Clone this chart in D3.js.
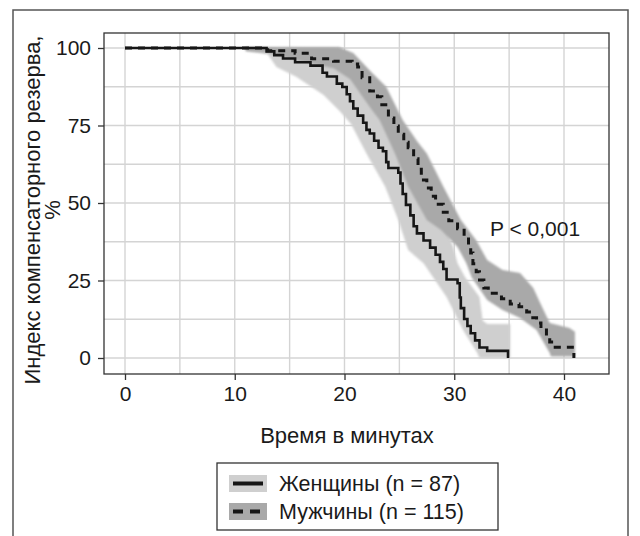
<!DOCTYPE html>
<html>
<head>
<meta charset="utf-8">
<script src="https://cdn.jsdelivr.net/npm/d3@7"></script>
<style>
  body { margin: 0; background: #fff; }
  text { font-family: "Liberation Sans", Arial, sans-serif; fill: #1a1a1a; }
</style>
</head>
<body>
<div id="chart"></div>
<script>
// Kaplan-Meier steps: [minutes, percent]
const womenSteps = [[0,100],[12.9,98.9],[13.6,97.7],[14.4,96.6],[15.5,95.4],[16.9,94.3],[18.0,92.0],[18.4,90.8],
  [19.3,88.5],[19.8,87.4],[20.2,85.1],[20.5,82.8],[20.8,80.5],[21.2,78.2],[21.7,75.9],[22.0,73.6],[22.3,72.4],
  [22.7,70.1],[23.1,67.8],[23.5,66.7],[23.8,63.2],[24.0,61.3],[24.9,59.8],[25.1,56.3],[25.3,52.9],[25.6,49.4],
  [26.0,46.0],[26.3,42.5],[26.6,40.2],[27.2,37.9],[27.8,35.6],[28.3,33.3],[28.7,31.0],[29.0,28.7],[29.3,25.3],
  [30.3,24.1],[30.5,19.5],[30.6,16.1],[30.9,12.6],[31.2,10.3],[31.5,8.0],[31.9,5.7],[32.3,3.4],[33.0,2.3],[34.9,0]];
const menSteps = [[0,100],[13.0,99.1],[15.5,98.3],[17.0,96.5],[19.0,95.7],[20.7,94.8],[21.2,93.9],[21.6,90.4],
  [22.3,86.1],[23.0,84.3],[23.4,81.7],[24.0,77.4],[24.5,74.8],[24.9,72.2],[25.4,69.6],[25.8,67.8],[26.3,64.3],
  [26.7,60.9],[27.0,57.4],[27.5,54.8],[27.9,52.2],[28.3,49.6],[29.0,47.0],[29.5,44.3],[30.3,41.7],[30.9,39.1],
  [31.3,36.5],[31.5,33.9],[31.7,30.4],[32.0,27.8],[32.3,25.2],[32.7,22.6],[33.1,20.9],[34.3,19.1],[35.1,17.4],
  [35.9,16.5],[36.6,14.8],[37.0,13.0],[37.5,11.3],[37.9,9.6],[38.4,7.0],[38.7,5.2],[39.2,3.5],[40.9,0]];

// confidence band edges
const womenUpper = [[11,100],[19,99.5],[21,96],[23,88],[24.5,76],[25.8,62],[27,52],[28.5,44.5],[29.3,41.3],
  [29.9,35.8],[30.3,30.6],[31,26],[32.3,19.7],[32.6,12],[33,11],[35.1,11],[35.1,0]];
const womenLower = [[11,99],[13,98],[13.8,93.9],[15.6,90.7],[18.1,84.8],[19.6,79.5],[20.6,75.5],[22,66],
  [23.7,55.3],[24.9,44.5],[25.8,34.8],[27.2,30.6],[29.3,19.7],[30.8,9],[32.1,1.6],[32.3,0]];
const menUpper = [[11,100.3],[19.5,100.3],[20.8,98.4],[22.5,92],[23.8,87.5],[25.3,76.8],[26.6,70],[27.5,66],
  [29,55.3],[30.6,44.5],[32,38],[33,31.6],[34.4,28.4],[36,27.4],[37.2,22.6],[37.8,18],[38.7,11.3],[40.5,9.7],
  [41,8.5],[41,0.5]];
const menLower = [[11,99],[13,98.5],[15,96.5],[17,95],[19,93.5],[20.5,90],[21.5,85],[22.5,80],[23.2,76.8],
  [24.6,66],[25.8,55.3],[27.5,44.5],[28.8,41.3],[30.3,35.8],[31.1,30.6],[31.6,26],[33,18.7],[34.4,15.5],
  [36,12.9],[37.5,9],[38.7,1.6],[38.8,0.5]];

const xTicks = [0, 10, 20, 30, 40];
const xGrid = [0, 5, 10, 15, 20, 25, 30, 35, 40];
const yTicks = [0, 25, 50, 75, 100];
const yGrid = [0, 12.5, 25, 37.5, 50, 62.5, 75, 87.5, 100];

const seriesNames = ["Женщины (n = 87)", "Мужчины (n = 115)"];
const xTitle = "Время в минутах";
const yTitle = ["Индекс компенсаторного резерва,", "%"];
const pLabel = "P < 0,001";

const width = 640, height = 536;
const panel = { left: 104, right: 609, top: 33, bottom: 374 };

const svg = d3.select("#chart").append("svg")
    .attr("width", width)
    .attr("height", height);

// soft edge for the bands, like the scanned figure
svg.append("defs").append("filter")
    .attr("id", "soft")
    .append("feGaussianBlur").attr("stdDeviation", 0.8);

// outer frame
svg.append("rect")
    .attr("x", 13).attr("y", 10)
    .attr("width", 615).attr("height", 540)
    .attr("fill", "none").attr("stroke", "#555").attr("stroke-width", 1.5);

const x = d3.scaleLinear().domain([0, 40]).range([125, 564]);
const y = d3.scaleLinear().domain([0, 100]).range([358, 48]);

// grid
const grid = svg.append("g").attr("stroke", "#d4d4d4").attr("stroke-width", 1.4);
grid.selectAll(".gx").data(xGrid).enter().append("line")
    .attr("x1", d => x(d)).attr("x2", d => x(d))
    .attr("y1", panel.top).attr("y2", panel.bottom);
grid.selectAll(".gy").data(yGrid).enter().append("line")
    .attr("y1", d => y(d)).attr("y2", d => y(d))
    .attr("x1", panel.left).attr("x2", panel.right);

// bands
const poly = d3.line().x(d => x(d[0])).y(d => y(d[1]));
svg.append("path")
    .attr("d", poly(womenUpper.concat(womenLower.slice().reverse())) + "Z")
    .attr("fill", "#cfcfcf").attr("filter", "url(#soft)");
svg.append("path")
    .attr("d", poly(menUpper.concat(menLower.slice().reverse())) + "Z")
    .attr("fill", "#a9a9a9").attr("filter", "url(#soft)");

// survival curves
const step = d3.line().x(d => x(d[0])).y(d => y(d[1])).curve(d3.curveStepAfter);
svg.append("path")
    .attr("d", step(womenSteps))
    .attr("fill", "none").attr("stroke", "#161616").attr("stroke-width", 2.6);
svg.append("path")
    .attr("d", step(menSteps))
    .attr("fill", "none").attr("stroke", "#161616").attr("stroke-width", 3)
    .attr("stroke-dasharray", "7,6");

// panel border
svg.append("rect")
    .attr("x", panel.left).attr("y", panel.top)
    .attr("width", panel.right - panel.left).attr("height", panel.bottom - panel.top)
    .attr("fill", "none").attr("stroke", "#333").attr("stroke-width", 1.3);

// axes
const xAxis = svg.append("g")
    .attr("transform", `translate(0,${panel.bottom})`)
    .call(d3.axisBottom(x).tickValues(xTicks).tickSize(6).tickPadding(6));
const yAxis = svg.append("g")
    .attr("transform", `translate(${panel.left},0)`)
    .call(d3.axisLeft(y).tickValues(yTicks).tickSize(6).tickPadding(7));
[xAxis, yAxis].forEach(g => {
  g.select(".domain").remove();
  g.selectAll(".tick line").attr("stroke", "#333").attr("stroke-width", 1.3);
  g.selectAll(".tick text").style("font-size", "21px").attr("fill", "#1a1a1a")
      .style("font-family", '"Liberation Sans", Arial, sans-serif');
});

// titles
svg.append("text")
    .attr("x", 347).attr("y", 443)
    .attr("text-anchor", "middle")
    .style("font-size", "22px")
    .text(xTitle);
svg.selectAll(".ytitle").data(yTitle).enter().append("text")
    .attr("transform", (d, i) => `translate(${40 + i * 20},210) rotate(-90)`)
    .attr("text-anchor", "middle")
    .style("font-size", "22px")
    .text(d => d);

svg.append("text")
    .attr("x", 490).attr("y", 236)
    .style("font-size", "21px")
    .text(pLabel);

// legend
const legend = svg.append("g").attr("transform", "translate(217,463)");
legend.append("rect")
    .attr("width", 281).attr("height", 67)
    .attr("fill", "#fff").attr("stroke", "#333").attr("stroke-width", 1.3);
const swatchFill = ["#cfcfcf", "#a9a9a9"];
const item = legend.selectAll(".item").data(seriesNames).enter().append("g")
    .attr("transform", (d, i) => `translate(12,${12 + i * 28})`);
item.append("rect")
    .attr("width", 38).attr("height", 17)
    .attr("fill", (d, i) => swatchFill[i]);
item.append("line")
    .attr("x1", 4).attr("x2", 34)
    .attr("y1", 8.5).attr("y2", 8.5)
    .attr("stroke", "#161616").attr("stroke-width", 4)
    .attr("stroke-dasharray", (d, i) => i === 0 ? null : "10,7");
item.append("text")
    .attr("x", 50).attr("y", 16)
    .style("font-size", "21.5px")
    .text(d => d);
</script>
</body>
</html>
